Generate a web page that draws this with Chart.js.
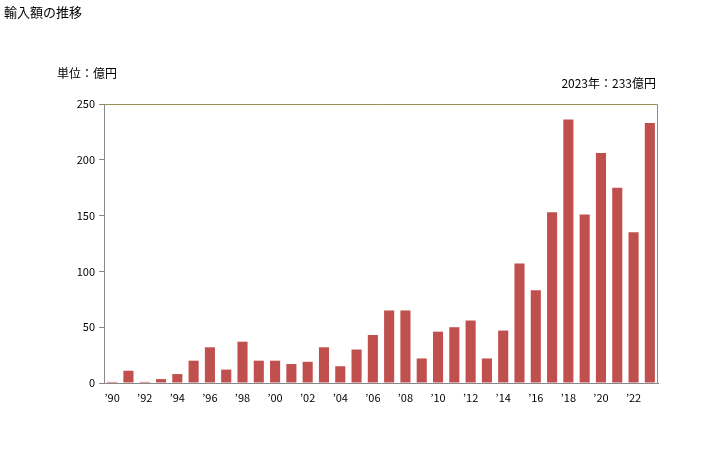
<!DOCTYPE html>
<html>
<head>
<meta charset="utf-8">
<script src="https://cdn.jsdelivr.net/npm/chart.js@4/dist/chart.umd.min.js"></script>
<style>
  body { margin: 0; background: #fff; }
  #wrap { width: 728px; height: 450px; position: relative; }
</style>
</head>
<body>
<div id="wrap"><canvas id="importChart" width="728" height="450"></canvas></div>
<script>
// 年（1990〜2023）
const years = [1990, 1991, 1992, 1993, 1994, 1995, 1996, 1997, 1998, 1999,
  2000, 2001, 2002, 2003, 2004, 2005, 2006, 2007, 2008, 2009,
  2010, 2011, 2012, 2013, 2014, 2015, 2016, 2017, 2018, 2019,
  2020, 2021, 2022, 2023];
// 輸入額（億円）
const importValues = [1, 11, 1, 3.5, 8, 20, 32, 12, 37, 20,
  20, 17, 19, 32, 15, 30, 43, 65, 65, 22,
  46, 50, 56, 22, 47, 107, 83, 153, 236, 151,
  206, 175, 135, 233];
const yTicks = [0, 50, 100, 150, 200, 250];

const titleText = '輸入額の推移';
const unitText = '単位：億円';
const latestText = '2023年：233億円';

const jpFont = '"Noto Sans CJK JP", sans-serif';

// タイトルや枠線を描くプラグイン
const textPlugin = {
  id: 'textPlugin',
  afterDraw(chart) {
    const c = chart.ctx;
    const area = chart.chartArea;
    c.save();
    // 上と右の枠線
    c.strokeStyle = '#9c8f4f';
    c.lineWidth = 1;
    c.beginPath();
    c.moveTo(area.left, area.top + 0.5);
    c.lineTo(area.right - 0.5, area.top + 0.5);
    c.lineTo(area.right - 0.5, area.bottom);
    c.stroke();

    c.fillStyle = '#000';
    c.font = '13px ' + jpFont;
    c.textBaseline = 'middle';
    c.textAlign = 'left';
    c.fillText(titleText, 4, 12);
    c.font = '12px ' + jpFont;
    c.fillText(unitText, 57, 73);
    c.textAlign = 'right';
    c.fillText(latestText, 656, 83);
    c.restore();
  }
};

const ctx = document.getElementById('importChart').getContext('2d');
const chart = new Chart(ctx, {
  type: 'bar',
  data: {
    labels: years,
    datasets: [{
      label: '輸入額',
      data: importValues,
      backgroundColor: '#c0504d',
      borderWidth: 0,
      barPercentage: 0.62,
      categoryPercentage: 1.0
    }]
  },
  options: {
    responsive: false,
    animation: false,
    layout: { padding: { left: 0, top: 104, right: 70, bottom: 0 } },
    plugins: {
      legend: { display: false },
      tooltip: { enabled: false }
    },
    scales: {
      x: {
        grid: { display: false, drawTicks: false },
        border: { color: '#888', width: 1 },
        ticks: {
          autoSkip: false,
          maxRotation: 0,
          padding: 8,
          color: '#000',
          font: { size: 11, family: jpFont },
          callback: function (val, idx) {
            const y = years[idx];
            return (y % 2 === 0) ? '\u2019' + String(y).slice(2) : '';
          }
        },
        afterFit(scale) { scale.height = 67; }
      },
      y: {
        min: 0,
        max: 250,
        afterBuildTicks(scale) { scale.ticks = yTicks.map(v => ({ value: v })); },
        grid: { drawOnChartArea: false, drawTicks: true, tickLength: 5, color: '#888' },
        border: { color: '#888', width: 1 },
        ticks: {
          padding: 4,
          color: '#000',
          font: { size: 11, family: jpFont }
        },
        afterFit(scale) { scale.width = 104; }
      }
    }
  },
  plugins: [textPlugin]
});
</script>
</body>
</html>
